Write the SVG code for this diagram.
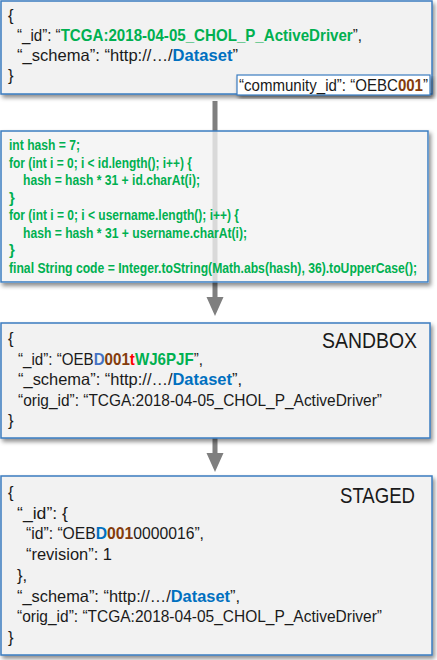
<svg xmlns="http://www.w3.org/2000/svg" width="437" height="660" viewBox="0 0 437 660">
<style>
.box{fill:#f2f2f2;stroke:#3a7cc0;stroke-width:1.5}
.cbox{fill:#f2f2f2;fill-opacity:0.78;stroke:#3a7cc0;stroke-width:1.5}
.tag{fill:#ffffff;stroke:#3a7cc0;stroke-width:1.2}
.t{font-family:"Liberation Sans",Arial,sans-serif;font-size:16.5px;fill:#1a1a1a}
.big{font-family:"Liberation Sans",Arial,sans-serif;font-size:22px;fill:#1a1a1a}
.code{font-family:"Liberation Sans",Arial,sans-serif;font-size:15px;font-weight:bold;fill:#00b050}
.g{fill:#00b050;font-weight:bold}
.bl{fill:#0070c0;font-weight:bold}
.bl2{fill:#4472c4;font-weight:bold}
.br{fill:#843c0c;font-weight:bold}
.r{fill:#ff0000;font-weight:bold}
.arrow{fill:#7f7f7f}
</style>
<defs>
<filter id="sh" x="-5%" y="-10%" width="115%" height="130%">
<feGaussianBlur in="SourceAlpha" stdDeviation="2"/>
<feOffset dx="2" dy="3" result="o"/>
<feFlood flood-color="#000" flood-opacity="0.45"/>
<feComposite in2="o" operator="in" result="s"/>
<feMerge><feMergeNode in="s"/><feMergeNode in="SourceGraphic"/></feMerge>
</filter>
<filter id="shT" x="-5%" y="-10%" width="115%" height="130%">
<feComponentTransfer in="SourceAlpha" result="a"><feFuncA type="linear" slope="20"/></feComponentTransfer>
<feGaussianBlur in="a" stdDeviation="2"/>
<feOffset dx="2" dy="3" result="o"/>
<feFlood flood-color="#000" flood-opacity="0.45"/>
<feComposite in2="o" operator="in"/>
<feComposite in2="a" operator="out" result="s"/>
<feMerge><feMergeNode in="s"/><feMergeNode in="SourceGraphic"/></feMerge>
</filter>
</defs>

<g id="connectors">
<path class="arrow" d="M212.5,101 H217.5 V297 H223.5 L215,316 L206.5,297 H212.5 Z"/>
<path class="arrow" d="M212.5,436 H217.5 V453 H223.5 L215,472 L206.5,453 H212.5 Z"/>
</g>

<g id="node-original">
<rect class="box" x="1" y="1" width="431" height="93" filter="url(#sh)"/>
<text class="t" x="8" y="21">{</text>
<text class="t" x="17" y="41" textLength="345" lengthAdjust="spacingAndGlyphs">“_id”: “<tspan class="g">TCGA:2018-04-05_CHOL_P_ActiveDriver</tspan>”,</text>
<text class="t" x="17" y="61" textLength="221" lengthAdjust="spacingAndGlyphs">“_schema”: “http://…/<tspan class="bl">Dataset</tspan>”</text>
<text class="t" x="8" y="81">}</text>
</g>

<g id="node-community">
<rect class="tag" x="237" y="75" width="193" height="20" filter="url(#sh)"/>
<text class="t" x="239" y="91" textLength="189" lengthAdjust="spacingAndGlyphs">“community_id”: “OEBC<tspan class="br">001</tspan>”</text>
</g>

<g id="node-code">
<rect class="cbox" x="1" y="131" width="427" height="151" filter="url(#shT)"/>
<text class="code" x="9" y="150" textLength="71" lengthAdjust="spacingAndGlyphs">int hash = 7;</text>
<text class="code" x="9" y="167.5" textLength="183" lengthAdjust="spacingAndGlyphs">for (int i = 0; i &lt; id.length(); i++) {</text>
<text class="code" x="23" y="185" textLength="177" lengthAdjust="spacingAndGlyphs">hash = hash * 31 + id.charAt(i);</text>
<text class="code" x="9" y="202.5">}</text>
<text class="code" x="9" y="220" textLength="230" lengthAdjust="spacingAndGlyphs">for (int i = 0; i &lt; username.length(); i++) {</text>
<text class="code" x="23" y="237.5" textLength="224" lengthAdjust="spacingAndGlyphs">hash = hash * 31 + username.charAt(i);</text>
<text class="code" x="9" y="255">}</text>
<text class="code" x="9" y="273" textLength="408" lengthAdjust="spacingAndGlyphs">final String code = Integer.toString(Math.abs(hash), 36).toUpperCase();</text>
</g>

<g id="node-sandbox">
<rect class="box" x="1" y="323" width="429" height="115" filter="url(#sh)"/>
<text class="big" x="322" y="348" textLength="95" lengthAdjust="spacingAndGlyphs">SANDBOX</text>
<text class="t" x="8" y="344">{</text>
<text class="t" x="18" y="364.5" textLength="185" lengthAdjust="spacingAndGlyphs">“_id”: “OEB<tspan class="bl2">D</tspan><tspan class="br">001</tspan><tspan class="r">t</tspan><tspan class="g">WJ6PJF</tspan>”,</text>
<text class="t" x="18" y="385" textLength="224" lengthAdjust="spacingAndGlyphs">“_schema”: “http://…/<tspan class="bl">Dataset</tspan>”,</text>
<text class="t" x="18" y="405.5" textLength="364" lengthAdjust="spacingAndGlyphs">“orig_id”: “TCGA:2018-04-05_CHOL_P_ActiveDriver”</text>
<text class="t" x="8" y="426">}</text>
</g>

<g id="node-staged">
<rect class="box" x="1" y="476" width="431" height="179" filter="url(#sh)"/>
<text class="big" x="340" y="503" textLength="75" lengthAdjust="spacingAndGlyphs">STAGED</text>
<text class="t" x="8" y="498">{</text>
<text class="t" x="17" y="518.7" textLength="51" lengthAdjust="spacingAndGlyphs">“_id”: {</text>
<text class="t" x="26" y="539.4" textLength="178" lengthAdjust="spacingAndGlyphs">“id”: “OEB<tspan class="bl">D</tspan><tspan class="br">001</tspan>0000016”,</text>
<text class="t" x="26" y="560.1" textLength="86" lengthAdjust="spacingAndGlyphs">“revision”: 1</text>
<text class="t" x="17" y="580.8">},</text>
<text class="t" x="17" y="601.5" textLength="223" lengthAdjust="spacingAndGlyphs">“_schema”: “http://…/<tspan class="bl">Dataset</tspan>”,</text>
<text class="t" x="17" y="622.2" textLength="365" lengthAdjust="spacingAndGlyphs">“orig_id”: “TCGA:2018-04-05_CHOL_P_ActiveDriver”</text>
<text class="t" x="8" y="642.9">}</text>
</g>
</svg>
